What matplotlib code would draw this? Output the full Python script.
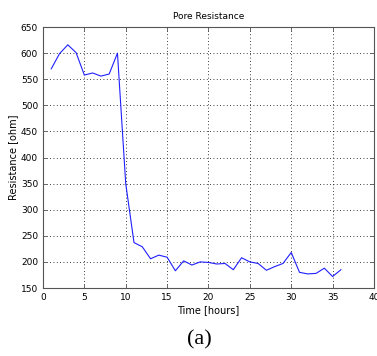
import numpy as np
import matplotlib
matplotlib.use('Agg')
import matplotlib.pyplot as plt

# jam ke- dan hambatan pori
jam = list(range(1, 37))
hambatan = [570, 599, 616, 601, 558, 562, 556, 560, 600, 350,
            237, 229, 206, 213, 209, 183, 202, 194, 200, 199,
            196, 197, 185, 208, 200, 197, 184, 191, 197, 218,
            180, 177, 178, 188, 172, 185]

xticks = [0, 5, 10, 15, 20, 25, 30, 35, 40]
yticks = [150, 200, 250, 300, 350, 400, 450, 500, 550, 600, 650]

fig = plt.figure(figsize=(3.77, 3.56), dpi=100)
ax = fig.add_axes([0.114, 0.191, 0.878, 0.733])

ax.plot(jam, hambatan, color='#2020ff', linewidth=0.8)

ax.set_xlim(0, 40)
ax.set_ylim(150, 650)
ax.set_xticks(xticks)
ax.set_yticks(yticks)
ax.tick_params(direction='in', length=3, labelsize=6.5, top=True, right=True,
               width=0.6, color='#555555')
ax.grid(True, linestyle=(0, (1, 3)), color='black', linewidth=0.6)
for s in ax.spines.values():
    s.set_color('#555555')
    s.set_linewidth(0.8)

ax.set_title('Pore Resistance', fontsize=6.5, pad=6)
ax.set_xlabel('Time [hours]', fontsize=7, labelpad=2)
ax.set_ylabel('Resistance [ohm]', fontsize=7, labelpad=2)

fig.text(0.53, 0.045, '(a)', fontsize=16, family='Liberation Serif',
         ha='center', va='center')

plt.savefig('out.png', dpi=100)
